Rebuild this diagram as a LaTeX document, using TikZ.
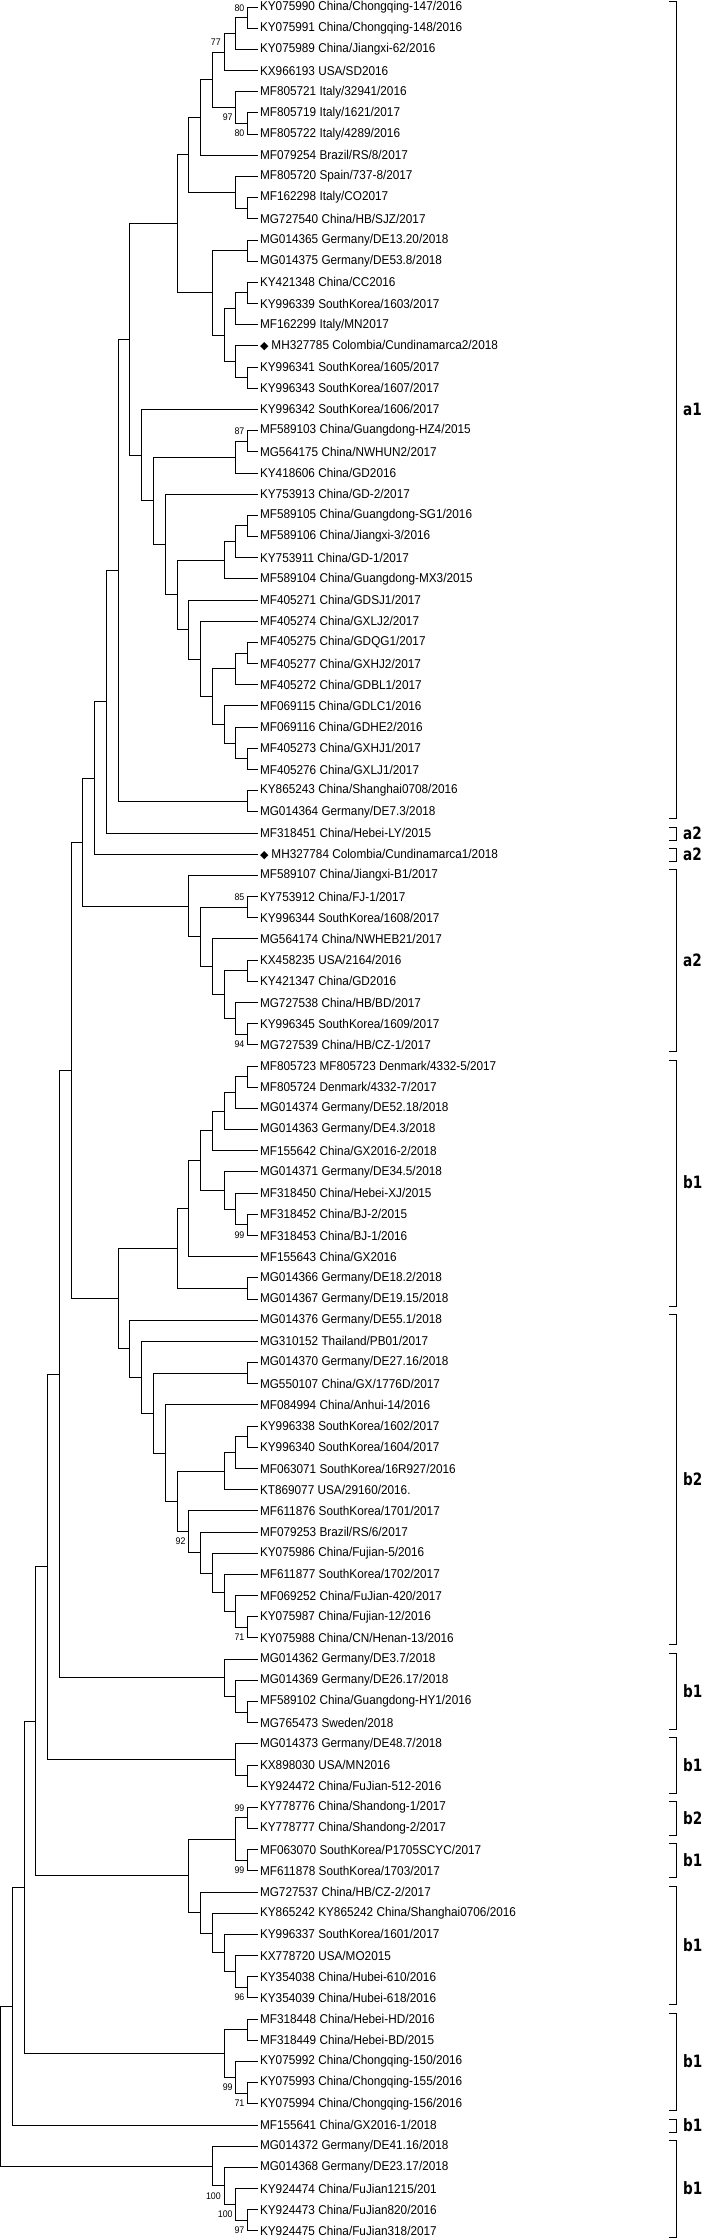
\documentclass[tikz,border=0pt]{standalone}
\usepackage{fontspec}
\setmainfont{Liberation Sans}[FakeStretch=0.92]
\newfontfamily\cladefont{DejaVu Sans}[FakeStretch=0.8]
\newfontfamily\symbolfont{DejaVu Sans}
\usetikzlibrary{calc}
\tikzset{
  branch/.style={draw=black, line width=0.9pt},
  leaf/.style={anchor=west, inner xsep=1.5pt, inner ysep=0pt,
    font=\fontsize{12.8}{13}\selectfont},
  boot/.style={anchor=east, inner sep=0pt, font=\fontsize{9.6}{10}\selectfont},
  bootup/.style={boot, xshift=-3pt, yshift=9.5pt},
  bootdown/.style={boot, xshift=-3pt, yshift=-10pt},
  clade/.style={draw=black, line width=0.9pt},
  cladename/.style={anchor=west, inner sep=0pt,
    font=\cladefont\bfseries\fontsize{17}{17}\selectfont}
}
% diamond in front of the Colombian strains
\newcommand\gem{{\symbolfont\fontsize{11}{11}\selectfont ◆}\hspace{3pt}}
% internal node: name, height, first child, second child
\newcommand\joinnode[4]{%
  \path let \p1=(#3), \p2=(#4) in
    coordinate (#1) at (259.3pt-11.76pt*#2, {0.5*(\y1+\y2)});
  \draw[branch] (#1) |- (#3);
  \draw[branch] (#1) |- (#4);
}
% bracket: first leaf, last leaf, genotype
\newcommand\clade[3]{%
  \draw[clade] let \p1=(L#1), \p2=(L#2) in
    (669pt,\y1+6pt) -- (676pt,\y1+6pt) -- (676pt,\y2-7pt) -- (669pt,\y2-7pt);
  \path let \p1=(L#1), \p2=(L#2) in
    node[cladename] (C#1) at (683pt,{0.5*(\y1+\y2)}) {#3};
}
\begin{document}
\begin{tikzpicture}[x=1pt, y=-1pt]
\useasboundingbox (0,0) rectangle (709,2240);

% strains
\foreach \txt [count=\i] in {
  KY075990 China/Chongqing-147/2016,
  KY075991 China/Chongqing-148/2016,
  KY075989 China/Jiangxi-62/2016,
  KX966193 USA/SD2016,
  MF805721 Italy/32941/2016,
  MF805719 Italy/1621/2017,
  MF805722 Italy/4289/2016,
  MF079254 Brazil/RS/8/2017,
  MF805720 Spain/737-8/2017,
  MF162298 Italy/CO2017,
  MG727540 China/HB/SJZ/2017,
  MG014365 Germany/DE13.20/2018,
  MG014375 Germany/DE53.8/2018,
  KY421348 China/CC2016,
  KY996339 SouthKorea/1603/2017,
  MF162299 Italy/MN2017,
  \gem MH327785 Colombia/Cundinamarca2/2018,
  KY996341 SouthKorea/1605/2017,
  KY996343 SouthKorea/1607/2017,
  KY996342 SouthKorea/1606/2017,
  MF589103 China/Guangdong-HZ4/2015,
  MG564175 China/NWHUN2/2017,
  KY418606 China/GD2016,
  KY753913 China/GD-2/2017,
  MF589105 China/Guangdong-SG1/2016,
  MF589106 China/Jiangxi-3/2016,
  KY753911 China/GD-1/2017,
  MF589104 China/Guangdong-MX3/2015,
  MF405271 China/GDSJ1/2017,
  MF405274 China/GXLJ2/2017,
  MF405275 China/GDQG1/2017,
  MF405277 China/GXHJ2/2017,
  MF405272 China/GDBL1/2017,
  MF069115 China/GDLC1/2016,
  MF069116 China/GDHE2/2016,
  MF405273 China/GXHJ1/2017,
  MF405276 China/GXLJ1/2017,
  KY865243 China/Shanghai0708/2016,
  MG014364 Germany/DE7.3/2018,
  MF318451 China/Hebei-LY/2015,
  \gem MH327784 Colombia/Cundinamarca1/2018,
  MF589107 China/Jiangxi-B1/2017,
  KY753912 China/FJ-1/2017,
  KY996344 SouthKorea/1608/2017,
  MG564174 China/NWHEB21/2017,
  KX458235 USA/2164/2016,
  KY421347 China/GD2016,
  MG727538 China/HB/BD/2017,
  KY996345 SouthKorea/1609/2017,
  MG727539 China/HB/CZ-1/2017,
  MF805723 MF805723 Denmark/4332-5/2017,
  MF805724 Denmark/4332-7/2017,
  MG014374 Germany/DE52.18/2018,
  MG014363 Germany/DE4.3/2018,
  MF155642 China/GX2016-2/2018,
  MG014371 Germany/DE34.5/2018,
  MF318450 China/Hebei-XJ/2015,
  MF318452 China/BJ-2/2015,
  MF318453 China/BJ-1/2016,
  MF155643 China/GX2016,
  MG014366 Germany/DE18.2/2018,
  MG014367 Germany/DE19.15/2018,
  MG014376 Germany/DE55.1/2018,
  MG310152 Thailand/PB01/2017,
  MG014370 Germany/DE27.16/2018,
  MG550107 China/GX/1776D/2017,
  MF084994 China/Anhui-14/2016,
  KY996338 SouthKorea/1602/2017,
  KY996340 SouthKorea/1604/2017,
  MF063071 SouthKorea/16R927/2016,
  KT869077 USA/29160/2016.,
  MF611876 SouthKorea/1701/2017,
  MF079253 Brazil/RS/6/2017,
  KY075986 China/Fujian-5/2016,
  MF611877 SouthKorea/1702/2017,
  MF069252 China/FuJian-420/2017,
  KY075987 China/Fujian-12/2016,
  KY075988 China/CN/Henan-13/2016,
  MG014362 Germany/DE3.7/2018,
  MG014369 Germany/DE26.17/2018,
  MF589102 China/Guangdong-HY1/2016,
  MG765473 Sweden/2018,
  MG014373 Germany/DE48.7/2018,
  KX898030 USA/MN2016,
  KY924472 China/FuJian-512-2016,
  KY778776 China/Shandong-1/2017,
  KY778777 China/Shandong-2/2017,
  MF063070 SouthKorea/P1705SCYC/2017,
  MF611878 SouthKorea/1703/2017,
  MG727537 China/HB/CZ-2/2017,
  KY865242 KY865242 China/Shanghai0706/2016,
  KY996337 SouthKorea/1601/2017,
  KX778720 USA/MO2015,
  KY354038 China/Hubei-610/2016,
  KY354039 China/Hubei-618/2016,
  MF318448 China/Hebei-HD/2016,
  MF318449 China/Hebei-BD/2015,
  KY075992 China/Chongqing-150/2016,
  KY075993 China/Chongqing-155/2016,
  KY075994 China/Chongqing-156/2016,
  MF155641 China/GX2016-1/2018,
  MG014372 Germany/DE41.16/2018,
  MG014368 Germany/DE23.17/2018,
  KY924474 China/FuJian1215/201,
  KY924473 China/FuJian820/2016,
  KY924475 China/FuJian318/2017}
  \node[leaf] (L\i) at (258.3,{7+(\i-1)*21.18}) {\txt};

% a1
\joinnode{na}{1}{L1}{L2}
\joinnode{nb}{2}{na}{L3}
\joinnode{nc}{3}{nb}{L4}
\joinnode{nd}{1}{L6}{L7}
\joinnode{ne}{2}{L5}{nd}
\joinnode{nf}{4}{nc}{ne}
\joinnode{ng}{5}{nf}{L8}
\joinnode{nh}{1}{L10}{L11}
\joinnode{ni}{2}{L9}{nh}
\joinnode{nj}{6}{ng}{ni}
\joinnode{nk}{1}{L12}{L13}
\joinnode{nl}{1}{L14}{L15}
\joinnode{nm}{2}{nl}{L16}
\joinnode{nn}{1}{L18}{L19}
\joinnode{no}{2}{L17}{nn}
\joinnode{np}{3}{nm}{no}
\joinnode{nq}{4}{nk}{np}
\joinnode{nr}{7}{nj}{nq}
\joinnode{ns}{1}{L21}{L22}
\joinnode{nt}{2}{ns}{L23}
\joinnode{nu}{1}{L25}{L26}
\joinnode{nv}{2}{nu}{L27}
\joinnode{nw}{3}{nv}{L28}
\joinnode{nx}{1}{L31}{L32}
\joinnode{ny}{2}{nx}{L33}
\joinnode{nz}{1}{L36}{L37}
\joinnode{naa}{2}{L35}{nz}
\joinnode{nab}{3}{L34}{naa}
\joinnode{nac}{4}{ny}{nab}
\joinnode{nad}{5}{L30}{nac}
\joinnode{nae}{6}{L29}{nad}
\joinnode{naf}{7}{nw}{nae}
\joinnode{nag}{8}{L24}{naf}
\joinnode{nah}{9}{nt}{nag}
\joinnode{nai}{10}{L20}{nah}
\joinnode{naj}{11}{nr}{nai}
\joinnode{nak}{1}{L38}{L39}
\joinnode{nal}{12}{naj}{nak}
\joinnode{nam}{13}{nal}{L40}
\joinnode{nan}{14}{nam}{L41}
% a2
\joinnode{nao}{1}{L43}{L44}
\joinnode{nap}{1}{L46}{L47}
\joinnode{naq}{1}{L49}{L50}
\joinnode{nar}{2}{L48}{naq}
\joinnode{nas}{3}{nap}{nar}
\joinnode{nat}{4}{L45}{nas}
\joinnode{nau}{5}{nao}{nat}
\joinnode{nav}{6}{L42}{nau}
\joinnode{naw}{15}{nan}{nav}
% b1
\joinnode{nax}{1}{L51}{L52}
\joinnode{nay}{2}{nax}{L53}
\joinnode{naz}{3}{nay}{L54}
\joinnode{nba}{4}{naz}{L55}
\joinnode{nbb}{1}{L58}{L59}
\joinnode{nbc}{2}{L57}{nbb}
\joinnode{nbd}{3}{L56}{nbc}
\joinnode{nbe}{5}{nba}{nbd}
\joinnode{nbf}{6}{nbe}{L60}
\joinnode{nbg}{1}{L61}{L62}
\joinnode{nbh}{7}{nbf}{nbg}
% b2
\joinnode{nbi}{1}{L65}{L66}
\joinnode{nbj}{1}{L68}{L69}
\joinnode{nbk}{2}{nbj}{L70}
\joinnode{nbl}{3}{nbk}{L71}
\joinnode{nbm}{1}{L77}{L78}
\joinnode{nbn}{2}{L76}{nbm}
\joinnode{nbo}{3}{L75}{nbn}
\joinnode{nbp}{4}{L74}{nbo}
\joinnode{nbq}{5}{L73}{nbp}
\joinnode{nbr}{6}{L72}{nbq}
\joinnode{nbs}{7}{nbl}{nbr}
\joinnode{nbt}{8}{L67}{nbs}
\joinnode{nbu}{9}{nbi}{nbt}
\joinnode{nbv}{10}{L64}{nbu}
\joinnode{nbw}{11}{L63}{nbv}
\joinnode{nbx}{12}{nbh}{nbw}
\joinnode{nby}{16}{naw}{nbx}
% lower clusters
\joinnode{nbz}{1}{L81}{L82}
\joinnode{nca}{2}{L80}{nbz}
\joinnode{ncb}{3}{L79}{nca}
\joinnode{ncc}{17}{nby}{ncb}
\joinnode{ncd}{1}{L84}{L85}
\joinnode{nce}{2}{L83}{ncd}
\joinnode{ncf}{18}{ncc}{nce}
\joinnode{ncg}{1}{L86}{L87}
\joinnode{nch}{1}{L88}{L89}
\joinnode{nci}{2}{ncg}{nch}
\joinnode{ncj}{1}{L94}{L95}
\joinnode{nck}{2}{L93}{ncj}
\joinnode{ncl}{3}{L92}{nck}
\joinnode{ncm}{4}{L91}{ncl}
\joinnode{ncn}{5}{L90}{ncm}
\joinnode{nco}{6}{nci}{ncn}
\joinnode{ncp}{19}{ncf}{nco}
\joinnode{ncq}{1}{L96}{L97}
\joinnode{ncr}{1}{L99}{L100}
\joinnode{ncs}{2}{L98}{ncr}
\joinnode{nct}{3}{ncq}{ncs}
\joinnode{ncu}{20}{ncp}{nct}
\joinnode{ncv}{21}{ncu}{L101}
\joinnode{ncw}{1}{L105}{L106}
\joinnode{ncx}{2}{L104}{ncw}
\joinnode{ncy}{3}{L103}{ncx}
\joinnode{ncz}{4}{L102}{ncy}
\joinnode{root}{22}{ncv}{ncz}

% bootstrap values
\node[bootup] (bs-na) at (na) {80};
\node[bootup] (bs-nc) at (nc) {77};
\node[bootdown] (bs-ne) at (ne) {97};
\node[bootdown] (bs-nd) at (nd) {80};
\node[bootup] (bs-ns) at (ns) {87};
\node[bootup] (bs-nao) at (nao) {85};
\node[bootdown] (bs-naq) at (naq) {94};
\node[bootdown] (bs-nbb) at (nbb) {99};
\node[bootdown] (bs-nbr) at (nbr) {92};
\node[bootdown] (bs-nbm) at (nbm) {71};
\node[bootup] (bs-ncg) at (ncg) {99};
\node[bootdown] (bs-nch) at (nch) {99};
\node[bootdown] (bs-ncj) at (ncj) {96};
\node[bootdown] (bs-ncs) at (ncs) {99};
\node[bootdown] (bs-ncr) at (ncr) {71};
\node[bootdown] (bs-ncy) at (ncy) {100};
\node[bootdown] (bs-ncx) at (ncx) {100};
\node[bootdown] (bs-ncw) at (ncw) {97};

% genotype brackets
\clade{1}{39}{a1}
\clade{40}{40}{a2}
\clade{41}{41}{a2}
\clade{42}{50}{a2}
\clade{51}{62}{b1}
\clade{63}{78}{b2}
\clade{79}{82}{b1}
\clade{83}{85}{b1}
\clade{86}{87}{b2}
\clade{88}{89}{b1}
\clade{90}{95}{b1}
\clade{96}{100}{b1}
\clade{101}{101}{b1}
\clade{102}{106}{b1}
\end{tikzpicture}
\end{document}
